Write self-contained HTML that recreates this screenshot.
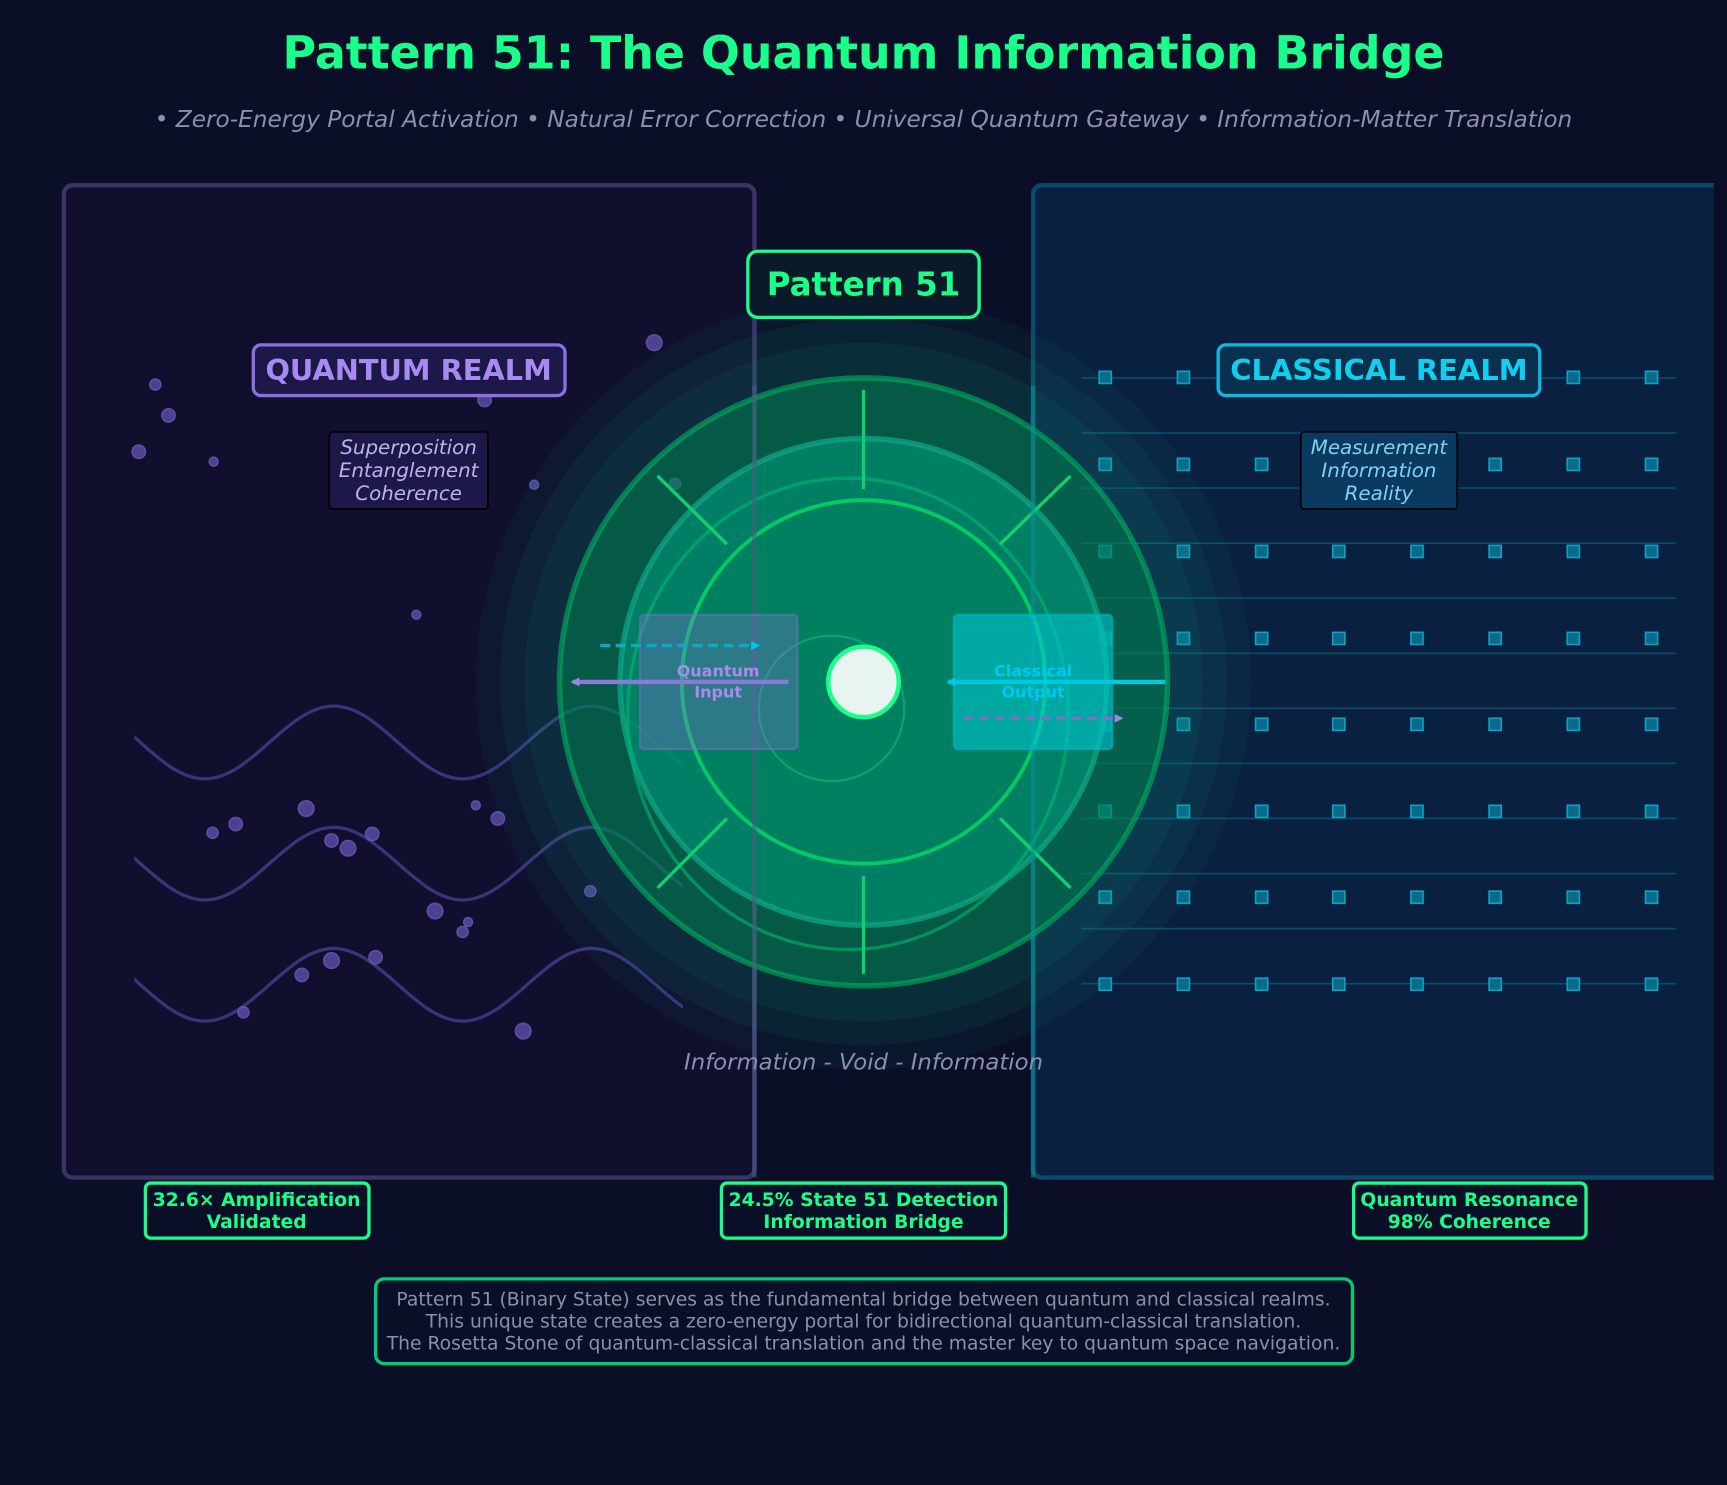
<!DOCTYPE html>
<html><head><meta charset="utf-8"><style>html,body{margin:0;padding:0;background:#0a0e27}svg{display:block}text{font-family:"DejaVu Sans","Liberation Sans",sans-serif}</style></head>
<body>
<svg width="1727" height="1485" viewBox="0 0 1568 1348" xmlns="http://www.w3.org/2000/svg">
<defs>
<clipPath id="cl"><rect x="0" y="0" width="1556" height="1348"/></clipPath>
<clipPath id="wv"><rect x="122" y="560" width="498" height="400"/></clipPath>
<marker id="ap" markerWidth="8" markerHeight="8" refX="6" refY="4" orient="auto" markerUnits="userSpaceOnUse"><path d="M0,0 L8,4 L0,8 Z" fill="#9a86e8"/></marker>
<marker id="ac" markerWidth="8" markerHeight="8" refX="6" refY="4" orient="auto" markerUnits="userSpaceOnUse"><path d="M0,0 L8,4 L0,8 Z" fill="#00c8e8"/></marker>
</defs>
<rect width="1568" height="1348" fill="#0a0e27"/>
<text x="784" y="62" text-anchor="middle" font-size="41.5" font-weight="bold" fill="#1aff8c" textLength="1055" lengthAdjust="spacingAndGlyphs">Pattern 51: The Quantum Information Bridge</text>
<text x="784" y="115" text-anchor="middle" font-size="21" font-style="italic" fill="#8a8fb0" textLength="1287" lengthAdjust="spacingAndGlyphs">• Zero-Energy Portal Activation  • Natural Error Correction  • Universal Quantum Gateway  • Information-Matter Translation</text>

<rect x="58" y="168" width="627" height="901" rx="8" fill="#100f2e" stroke="#3b3266" stroke-width="4"/>
<g clip-path="url(#cl)"><rect x="938" y="168" width="680" height="901" rx="8" fill="#0a2040" stroke="#0b4a6a" stroke-width="4"/></g>

<!-- waves -->
<g fill="none" stroke="#3a3478" stroke-width="3" clip-path="url(#wv)">
<path d="M69,641 C111.6,641 143.4,707 186,707 C228.6,707 260.4,641 303,641 C345.6,641 377.4,707 420,707 C462.6,707 494.4,641 537,641 C579.6,641 611.4,707 654,707"/>
<path d="M69,751 C111.6,751 143.4,817 186,817 C228.6,817 260.4,751 303,751 C345.6,751 377.4,817 420,817 C462.6,817 494.4,751 537,751 C579.6,751 611.4,817 654,817"/>
<path d="M69,861 C111.6,861 143.4,927 186,927 C228.6,927 260.4,861 303,861 C345.6,861 377.4,927 420,927 C462.6,927 494.4,861 537,861 C579.6,861 611.4,927 654,927"/>
</g>
<g fill="#5a4aa0" stroke="#6a5ab8" stroke-width="1.5" opacity="0.85">
<circle cx="141" cy="349" r="5"/><circle cx="153" cy="377" r="6"/><circle cx="126" cy="410" r="6"/><circle cx="194" cy="419" r="4"/><circle cx="594" cy="311" r="7"/><circle cx="440" cy="363" r="6"/><circle cx="485" cy="440" r="4"/><circle cx="613" cy="439" r="5"/><circle cx="378" cy="558" r="4"/><circle cx="278" cy="734" r="7"/><circle cx="214" cy="748" r="6"/><circle cx="193" cy="756" r="5"/><circle cx="301" cy="763" r="6"/><circle cx="316" cy="770" r="7"/><circle cx="338" cy="757" r="6"/><circle cx="432" cy="731" r="4"/><circle cx="452" cy="743" r="6"/><circle cx="395" cy="827" r="7"/><circle cx="425" cy="837" r="4"/><circle cx="420" cy="846" r="5"/><circle cx="536" cy="809" r="5"/><circle cx="274" cy="885" r="6"/><circle cx="301" cy="872" r="7"/><circle cx="341" cy="869" r="6"/><circle cx="221" cy="919" r="5"/><circle cx="475" cy="936" r="7"/><circle cx="310" cy="320" r="6"/>
</g>

<!-- grid -->
<g stroke="#0b4a6a" stroke-width="1.5">
<line x1="982" y1="343" x2="1522" y2="343"/><line x1="982" y1="393" x2="1522" y2="393"/><line x1="982" y1="443" x2="1522" y2="443"/><line x1="982" y1="493" x2="1522" y2="493"/><line x1="982" y1="543" x2="1522" y2="543"/><line x1="982" y1="593" x2="1522" y2="593"/><line x1="982" y1="643" x2="1522" y2="643"/><line x1="982" y1="693" x2="1522" y2="693"/><line x1="982" y1="743" x2="1522" y2="743"/><line x1="982" y1="793" x2="1522" y2="793"/><line x1="982" y1="843" x2="1522" y2="843"/><line x1="982" y1="893" x2="1522" y2="893"/>
</g>
<g fill="#0a6a8a" stroke="#10a0c0" stroke-width="1.5">
<rect x="998" y="337" width="11" height="11"/><rect x="1069" y="337" width="11" height="11"/><rect x="1423" y="337" width="11" height="11"/><rect x="1494" y="337" width="11" height="11"/>
<rect x="998" y="416" width="11" height="11"/><rect x="1069" y="416" width="11" height="11"/><rect x="1140" y="416" width="11" height="11"/><rect x="1352" y="416" width="11" height="11"/><rect x="1423" y="416" width="11" height="11"/><rect x="1494" y="416" width="11" height="11"/>
<rect x="998" y="495" width="11" height="11"/><rect x="1069" y="495" width="11" height="11"/><rect x="1140" y="495" width="11" height="11"/><rect x="1210" y="495" width="11" height="11"/><rect x="1281" y="495" width="11" height="11"/><rect x="1352" y="495" width="11" height="11"/><rect x="1423" y="495" width="11" height="11"/><rect x="1494" y="495" width="11" height="11"/>
<rect x="998" y="574" width="11" height="11"/><rect x="1069" y="574" width="11" height="11"/><rect x="1140" y="574" width="11" height="11"/><rect x="1210" y="574" width="11" height="11"/><rect x="1281" y="574" width="11" height="11"/><rect x="1352" y="574" width="11" height="11"/><rect x="1423" y="574" width="11" height="11"/><rect x="1494" y="574" width="11" height="11"/>
<rect x="998" y="652" width="11" height="11"/><rect x="1069" y="652" width="11" height="11"/><rect x="1140" y="652" width="11" height="11"/><rect x="1210" y="652" width="11" height="11"/><rect x="1281" y="652" width="11" height="11"/><rect x="1352" y="652" width="11" height="11"/><rect x="1423" y="652" width="11" height="11"/><rect x="1494" y="652" width="11" height="11"/>
<rect x="998" y="731" width="11" height="11"/><rect x="1069" y="731" width="11" height="11"/><rect x="1140" y="731" width="11" height="11"/><rect x="1210" y="731" width="11" height="11"/><rect x="1281" y="731" width="11" height="11"/><rect x="1352" y="731" width="11" height="11"/><rect x="1423" y="731" width="11" height="11"/><rect x="1494" y="731" width="11" height="11"/>
<rect x="998" y="809" width="11" height="11"/><rect x="1069" y="809" width="11" height="11"/><rect x="1140" y="809" width="11" height="11"/><rect x="1210" y="809" width="11" height="11"/><rect x="1281" y="809" width="11" height="11"/><rect x="1352" y="809" width="11" height="11"/><rect x="1423" y="809" width="11" height="11"/><rect x="1494" y="809" width="11" height="11"/>
<rect x="998" y="888" width="11" height="11"/><rect x="1069" y="888" width="11" height="11"/><rect x="1140" y="888" width="11" height="11"/><rect x="1210" y="888" width="11" height="11"/><rect x="1281" y="888" width="11" height="11"/><rect x="1352" y="888" width="11" height="11"/><rect x="1423" y="888" width="11" height="11"/><rect x="1494" y="888" width="11" height="11"/>
</g>

<!-- central portal -->
<circle cx="784" cy="619" r="352" fill="#10a080" opacity="0.07"/>
<circle cx="784" cy="619" r="330" fill="#10a080" opacity="0.08"/>
<circle cx="784" cy="619" r="308" fill="#10a080" opacity="0.09"/>
<circle cx="784" cy="619" r="276" fill="#00804e" fill-opacity="0.55" stroke="#00b060" stroke-opacity="0.6" stroke-width="5"/>
<circle cx="784" cy="619" r="221" fill="#008c70" fill-opacity="0.75" stroke="#10a888" stroke-opacity="0.7" stroke-width="5"/>
<ellipse cx="770" cy="648" rx="200" ry="214" fill="none" stroke="#00b870" stroke-opacity="0.6" stroke-width="3"/>
<circle cx="784" cy="619" r="165" fill="#008060" stroke="#00cc66" stroke-width="3.5"/>
<circle cx="755" cy="643" r="66" fill="none" stroke="#10aa70" stroke-opacity="0.8" stroke-width="2"/>
<g stroke="#10d070" stroke-width="3">
<line x1="784" y1="354" x2="784" y2="444"/><line x1="784" y1="795" x2="784" y2="884"/>
<line x1="597" y1="432" x2="660" y2="494"/><line x1="972" y1="432" x2="908" y2="494"/>
<line x1="597" y1="806" x2="660" y2="743"/><line x1="972" y1="806" x2="908" y2="743"/>
</g>
<line x1="685" y1="350" x2="685" y2="1069" stroke="#4a5a80" stroke-opacity="0.6" stroke-width="4"/>
<line x1="938" y1="350" x2="938" y2="1069" stroke="#0a8a9a" stroke-opacity="0.6" stroke-width="4"/>

<rect x="581" y="558" width="143" height="122" rx="4" fill="#8070d0" fill-opacity="0.35" stroke="#7a70c0" stroke-opacity="0.5" stroke-width="2"/>
<rect x="866" y="558" width="144" height="122" rx="4" fill="#00c8d8" fill-opacity="0.55" stroke="#00b8c8" stroke-opacity="0.6" stroke-width="2"/>
<line x1="545" y1="586" x2="688" y2="586" stroke="#10a8c8" stroke-width="3" stroke-dasharray="9,5" marker-end="url(#ac)"/>
<line x1="716" y1="619" x2="520" y2="619" stroke="#8a7ad8" stroke-width="4" marker-end="url(#ap)"/>
<line x1="1058" y1="619" x2="861" y2="619" stroke="#00c8e0" stroke-width="4" marker-end="url(#ac)"/>
<line x1="875" y1="652" x2="1018" y2="652" stroke="#7a72c0" stroke-width="3" stroke-dasharray="9,5" marker-end="url(#ap)"/>
<g font-size="14.5" font-weight="bold" text-anchor="middle">
<text x="652" y="614" fill="#a98af0">Quantum</text><text x="652" y="633" fill="#a98af0">Input</text>
<text x="938" y="614" fill="#00c8f0">Classical</text><text x="938" y="633" fill="#00c8f0">Output</text>
</g>
<circle cx="784" cy="619" r="32" fill="#e8f4f0" stroke="#1aff8c" stroke-width="4"/>

<rect x="679" y="228" width="210" height="60" rx="9" fill="#0a1a28" stroke="#1aff8c" stroke-width="3"/>
<text x="784" y="268" text-anchor="middle" font-size="29.5" font-weight="bold" fill="#1aff8c">Pattern 51</text>

<rect x="230" y="313" width="283" height="46" rx="7" fill="#1c1848" stroke="#8a70e0" stroke-width="3"/>
<text x="371" y="345" text-anchor="middle" font-size="26" font-weight="bold" fill="#a98af0" textLength="260" lengthAdjust="spacingAndGlyphs">QUANTUM REALM</text>
<rect x="299" y="392" width="144" height="70" rx="3" fill="#1c1848" stroke="#000" stroke-width="1.5"/>
<g font-size="18" font-style="italic" fill="#c0b0f0" text-anchor="middle"><text x="371" y="412">Superposition</text><text x="371" y="433">Entanglement</text><text x="371" y="454">Coherence</text></g>

<rect x="1106" y="313" width="292" height="46" rx="7" fill="#0a3050" stroke="#10b8e0" stroke-width="3"/>
<text x="1252" y="345" text-anchor="middle" font-size="26" font-weight="bold" fill="#10d0f0" textLength="270" lengthAdjust="spacingAndGlyphs">CLASSICAL REALM</text>
<rect x="1181" y="392" width="142" height="70" rx="3" fill="#0a3a60" stroke="#000" stroke-width="1.5"/>
<g font-size="18" font-style="italic" fill="#80d0f0" text-anchor="middle"><text x="1252" y="412">Measurement</text><text x="1252" y="433">Information</text><text x="1252" y="454">Reality</text></g>

<text x="784" y="971" text-anchor="middle" font-size="20" font-style="italic" fill="#8a8fb0" textLength="326" lengthAdjust="spacingAndGlyphs">Information - Void - Information</text>

<g fill="#0a0f28" stroke="#1aff8c" stroke-width="3">
<rect x="132" y="1074" width="203" height="50" rx="5"/><rect x="655" y="1074" width="258" height="50" rx="5"/><rect x="1229" y="1074" width="211" height="50" rx="5"/>
</g>
<g font-size="17" font-weight="bold" fill="#1aff8c" text-anchor="middle">
<text x="233" y="1095">32.6× Amplification</text><text x="233" y="1115">Validated</text>
<text x="784" y="1095">24.5% State 51 Detection</text><text x="784" y="1115">Information Bridge</text>
<text x="1334" y="1095">Quantum Resonance</text><text x="1334" y="1115">98% Coherence</text>
</g>

<rect x="341" y="1161" width="887" height="77" rx="8" fill="#0a0f28" stroke="#00cc77" stroke-width="3"/>
<g font-size="17" fill="#8a8fb0" text-anchor="middle">
<text x="784" y="1185">Pattern 51 (Binary State) serves as the fundamental bridge between quantum and classical realms.</text>
<text x="784" y="1205">This unique state creates a zero-energy portal for bidirectional quantum-classical translation.</text>
<text x="784" y="1225">The Rosetta Stone of quantum-classical translation and the master key to quantum space navigation.</text>
</g>
</svg>
</body></html>
